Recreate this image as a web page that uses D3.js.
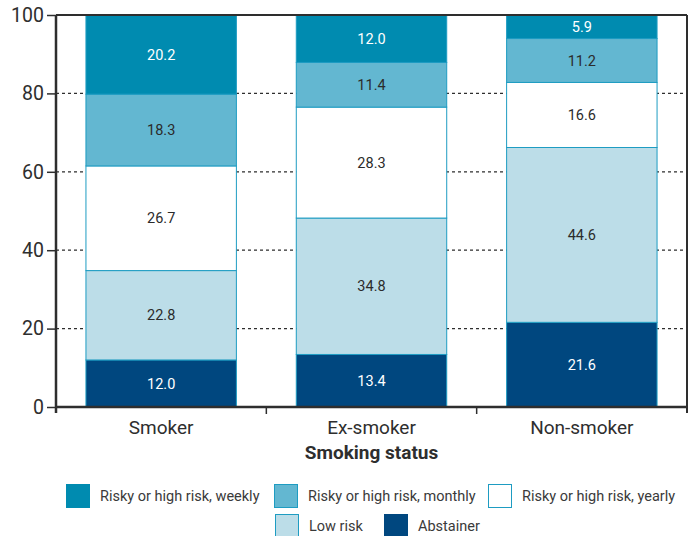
<!DOCTYPE html>
<html>
<head>
<meta charset="utf-8">
<script src="https://cdn.jsdelivr.net/npm/d3@7"></script>
<style>
  html, body { margin: 0; padding: 0; background: #fff; }
  svg { display: block; font-family: Roboto, "Liberation Sans", sans-serif; }
</style>
</head>
<body>
<svg id="chart" width="694" height="536"></svg>
<script>
// Drinking pattern by smoking status (% of each group)
const categories = ["Smoker", "Ex-smoker", "Non-smoker"];
const seriesNames = ["Abstainer", "Low risk", "Risky or high risk, yearly", "Risky or high risk, monthly", "Risky or high risk, weekly"];
const abstainer = [12.0, 13.4, 21.6];
const lowRisk   = [22.8, 34.8, 44.6];
const yearly    = [26.7, 28.3, 16.6];
const monthly   = [18.3, 11.4, 11.2];
const weekly    = [20.2, 12.0, 5.9];
const yTicks = [0, 20, 40, 60, 80, 100];
const xTitle = "Smoking status";

const fills = {
  "Abstainer": "#00477f",
  "Low risk": "#bcdde8",
  "Risky or high risk, yearly": "#ffffff",
  "Risky or high risk, monthly": "#63b7d1",
  "Risky or high risk, weekly": "#008bb0"
};
const labelColor = {
  "Abstainer": "#ffffff",
  "Low risk": "#2b2b2b",
  "Risky or high risk, yearly": "#2b2b2b",
  "Risky or high risk, monthly": "#2b2b2b",
  "Risky or high risk, weekly": "#ffffff"
};

const rows = categories.map((c, i) => ({
  category: c,
  "Abstainer": abstainer[i],
  "Low risk": lowRisk[i],
  "Risky or high risk, yearly": yearly[i],
  "Risky or high risk, monthly": monthly[i],
  "Risky or high risk, weekly": weekly[i]
}));

const svg = d3.select("#chart");
const margin = {left: 56, right: 7, top: 15, bottom: 129};
const W = 694, H = 536;
const x0 = margin.left, x1 = W - margin.right;
const y0 = H - margin.bottom, y1 = margin.top;

const x = d3.scaleBand().domain(categories).range([x0, x1]).paddingInner(0.28).paddingOuter(0.14);
const y = d3.scaleLinear().domain([0, 100]).range([y0, y1]);

const ink = "#2e2e2e";

// dashed gridlines behind the bars
svg.append("g").selectAll("line").data(yTicks.filter(t => t > 0 && t < 100)).join("line")
  .attr("x1", x0).attr("x2", x1)
  .attr("y1", d => y(d)).attr("y2", d => y(d))
  .attr("stroke", ink).attr("stroke-width", 1.2).attr("stroke-dasharray", "3,3");

// stacked segments
const stack = d3.stack().keys(seriesNames)(rows);
const layers = svg.append("g").selectAll("g").data(stack).join("g");
layers.selectAll("rect").data(d => d.map(p => ({key: d.key, p}))).join("rect")
  .attr("x", d => x(d.p.data.category) + 0.5)
  .attr("width", x.bandwidth() - 1)
  .attr("y", d => y(d.p[1]))
  .attr("height", d => y(d.p[0]) - y(d.p[1]))
  .attr("fill", d => fills[d.key])
  .attr("stroke", "#1e9cc2").attr("stroke-width", 1);

layers.selectAll("text").data(d => d.map(p => ({key: d.key, p}))).join("text")
  .attr("x", d => x(d.p.data.category) + x.bandwidth() / 2)
  .attr("y", d => (y(d.p[0]) + y(d.p[1])) / 2)
  .attr("dy", "0.36em")
  .attr("text-anchor", "middle")
  .attr("font-size", 14.5)
  .attr("fill", d => labelColor[d.key])
  .text(d => (d.p[1] - d.p[0]).toFixed(1));

// frame: top and right edges
svg.append("line").attr("x1", x0).attr("x2", x1).attr("y1", y1).attr("y2", y1)
  .attr("stroke", ink).attr("stroke-width", 2);
svg.append("line").attr("x1", x1).attr("x2", x1).attr("y1", y1).attr("y2", y0 + 6)
  .attr("stroke", ink).attr("stroke-width", 2);

// y axis
const yAxis = svg.append("g").attr("transform", `translate(${x0},0)`)
  .call(d3.axisLeft(y).tickValues(yTicks).tickSize(9).tickPadding(3));
yAxis.select(".domain").attr("stroke", ink).attr("stroke-width", 2.5).attr("d", `M0,${y1}V${y0 + 6}`);
yAxis.selectAll(".tick line").attr("stroke", ink).attr("stroke-width", 1.5);
yAxis.selectAll("text").attr("font-size", 19.5).attr("fill", ink).attr("font-family", "Roboto, sans-serif");

// x axis with ticks at the band boundaries
const xAxis = svg.append("g").attr("transform", `translate(0,${y0})`)
  .call(d3.axisBottom(x).tickSize(0).tickPadding(14));
xAxis.select(".domain").attr("stroke", ink).attr("stroke-width", 2.5).attr("d", `M${x0},0H${x1}`);
xAxis.selectAll("text").attr("font-size", 19).attr("fill", ink).attr("font-family", "Roboto, sans-serif");
const bounds = categories.slice(1).map(c => x(c) - x.step() * x.paddingInner() / 2);
svg.append("g").selectAll("line").data(bounds).join("line")
  .attr("x1", d => d).attr("x2", d => d).attr("y1", y0).attr("y2", y0 + 7)
  .attr("stroke", ink).attr("stroke-width", 1.5);

svg.append("text").attr("x", (x0 + x1) / 2).attr("y", 459)
  .attr("text-anchor", "middle").attr("font-size", 19).attr("font-weight", "bold")
  .attr("fill", ink).text(xTitle);

// legend
const legendItems = [
  {key: "Risky or high risk, weekly", x: 66, y: 484},
  {key: "Risky or high risk, monthly", x: 274, y: 484},
  {key: "Risky or high risk, yearly", x: 488, y: 484},
  {key: "Low risk", x: 275, y: 514},
  {key: "Abstainer", x: 384, y: 514}
];
const lg = svg.append("g").selectAll("g").data(legendItems).join("g")
  .attr("transform", d => `translate(${d.x},${d.y})`);
lg.append("rect").attr("x", 0.5).attr("y", 0.5).attr("width", 23).attr("height", 23)
  .attr("fill", d => fills[d.key])
  .attr("stroke", d => d.key === "Abstainer" || d.key === "Risky or high risk, weekly" ? fills[d.key] : "#1e9cc2")
  .attr("stroke-width", 1);
lg.append("text").attr("x", 34).attr("y", 12).attr("dy", "0.36em")
  .attr("font-size", 14.5).attr("fill", "#3a3a3a").text(d => d.key);
</script>
</body>
</html>
